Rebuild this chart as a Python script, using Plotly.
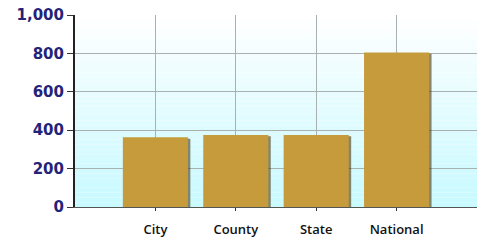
import plotly.graph_objects as go

categories = ["City", "County", "State", "National"]
values = [363, 375, 375, 805]
y_ticks = [0, 200, 400, 600, 800, 1000]
y_tick_labels = ["0", "200", "400", "600", "800", "1,000"]

bar_color = "#C69B3B"
bar_w = 0.81

fig = go.Figure()

# shadow
fig.add_trace(go.Bar(
    x=categories, y=values, width=bar_w, offset=-bar_w / 2 + 0.03,
    base=[-7] * len(values),
    marker=dict(color="rgba(70,55,20,0.6)", line=dict(width=0)),
    hoverinfo="skip", showlegend=False,
))
fig.add_trace(go.Bar(
    x=categories, y=values, width=bar_w, offset=-bar_w / 2,
    marker=dict(color=bar_color, line=dict(width=0)),
    showlegend=False,
))

# vertical gradient background (white at top -> light cyan at bottom)
n = 40
shapes = []
for i in range(n):
    t = i / (n - 1)
    r = int(255 + (200 - 255) * t)
    g = int(255 + (250 - 255) * t)
    b = 255
    shapes.append(dict(
        type="rect", xref="x domain", yref="y domain",
        x0=0, x1=1, y0=1 - (i + 1) / n, y1=1 - i / n,
        fillcolor=f"rgb({r},{g},{b})", line=dict(width=0), layer="below",
    ))

fig.update_layout(
    width=477, height=241,
    margin=dict(l=75, r=0, t=15, b=34, autoexpand=False),
    paper_bgcolor="white", plot_bgcolor="rgba(0,0,0,0)",
    barmode="overlay",
    shapes=shapes,
    xaxis=dict(
        range=[-1, 4], type="category", automargin=False,
        showgrid=True, gridcolor="#A8B0B0", gridwidth=1,
        ticks="outside", ticklen=3, tickcolor="#333",
        ticklabelstandoff=7,
        showline=True, linecolor="#555", linewidth=1,
        tickfont=dict(family="Open Sans", size=13, color="#111", weight=600),
    ),
    yaxis=dict(
        range=[0, 1000], tickvals=y_ticks, ticktext=y_tick_labels,
        automargin=False,
        showgrid=True, gridcolor="#A8B0B0", gridwidth=1,
        ticks="outside", ticklen=6, tickcolor="#333",
        showline=True, linecolor="#222", linewidth=2,
        zeroline=False,
        tickfont=dict(family="DejaVu Sans", size=15, color="#23237A", weight="bold"),
    ),
)

fig.write_html(
    "out.html",
    config={"displayModeBar": False},
    post_script="document.body.style.margin='0';document.body.style.overflow='hidden';",
)
